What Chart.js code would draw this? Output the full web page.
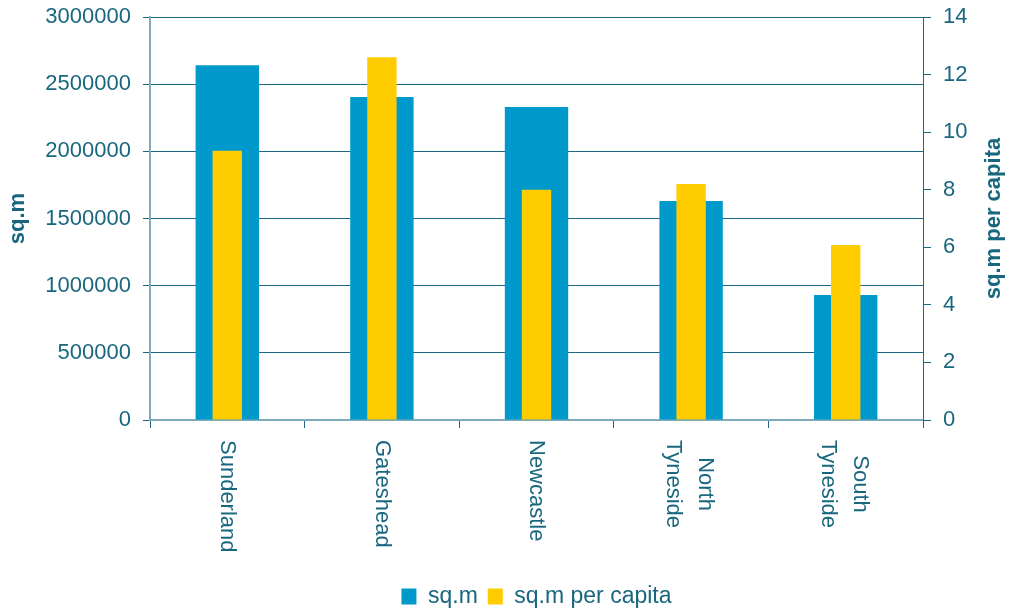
<!DOCTYPE html>
<html>
<head>
<meta charset="utf-8">
<script src="https://cdn.jsdelivr.net/npm/chart.js@4.4.0/dist/chart.umd.min.js"></script>
<style>
  html, body { margin: 0; padding: 0; background: #ffffff; }
  #contenedor { width: 1012px; height: 612px; }
</style>
</head>
<body>
<div id="contenedor"><canvas id="grafico" width="1012" height="612"></canvas></div>
<script>
// Datos del gráfico
const municipios = [["Sunderland"], ["Gateshead"], ["Newcastle"], ["North", "Tyneside"], ["South", "Tyneside"]];
const superficie = [2640000, 2405000, 2330000, 1630000, 930000]; // sq.m
const porHabitante = [9.35, 12.6, 8.0, 8.2, 6.08]; // sq.m per capita

// Escalas de los ejes
const ejeIzqMax = 3000000;
const ejeIzqPaso = 500000;
const ejeDerMax = 14;
const ejeDerPaso = 2;

const colorTexto = "#19677f";
const colorLinea = "#1b6880";
const colorBorde = "#7eaaba";
const fuente = "'Liberation Sans', Arial, Helvetica, sans-serif";

const altoLeyenda = 43; // fuente 23 + padding 10 + 10 internos de Chart.js
const margenInferior = -6;

const ctx = document.getElementById("grafico");

// Dibuja las etiquetas del eje X giradas (de arriba hacia abajo) y el título del eje derecho
const textosExtra = {
  id: "textosExtra",
  afterDraw(chart) {
    const c = chart.ctx;
    const x = chart.scales.x;
    const y2 = chart.scales.y2;

    c.save();
    c.font = "22px " + fuente;
    c.fillStyle = colorTexto;
    c.textBaseline = "middle";
    c.textAlign = "left";
    municipios.forEach((lineas, i) => {
      const cx = x.getPixelForValue(i) - (lineas.length > 1 ? 2 : 0);
      const anchoMax = Math.max(...lineas.map((l) => c.measureText(l).width));
      c.save();
      c.translate(cx, x.top + 20);
      c.rotate(Math.PI / 2);
      lineas.forEach((linea, j) => {
        const desp = (j - (lineas.length - 1) / 2) * 32;
        const ancho = c.measureText(linea).width;
        c.fillText(linea, (anchoMax - ancho) / 2, desp);
      });
      c.restore();
    });

    // Título del eje derecho, leído de abajo hacia arriba
    c.font = "bold 22px " + fuente;
    c.textAlign = "center";
    c.translate(y2.right - 18, (y2.top + y2.bottom) / 2);
    c.rotate(-Math.PI / 2);
    c.fillText("sq.m per capita", 0, 0);
    c.restore();
  },
};

// Los ejes verticales no reservan espacio extra arriba/abajo para sus etiquetas
const sinRelleno = (escala, ancho) => {
  escala.width = ancho;
  escala.paddingTop = 0;
  escala.paddingBottom = 0;
};

const chart = new Chart(ctx, {
  type: "bar",
  data: {
    labels: municipios,
    datasets: [
      {
        label: "sq.m",
        data: superficie,
        backgroundColor: "#0099cc",
        yAxisID: "y",
        grouped: false,
        categoryPercentage: 1,
        barPercentage: 0.41,
        order: 1,
      },
      {
        label: "sq.m per capita",
        data: porHabitante,
        backgroundColor: "#ffcc00",
        yAxisID: "y2",
        grouped: false,
        categoryPercentage: 1,
        barPercentage: 0.19,
        order: 0, // encima de las barras azules
      },
    ],
  },
  options: {
    responsive: false,
    animation: false,
    layout: { padding: { top: 17, left: 0, right: 0, bottom: margenInferior } },
    plugins: {
      tooltip: { enabled: false },
      legend: {
        position: "bottom",
        fullSize: false, // centrada bajo el área del gráfico
        labels: {
          color: colorTexto,
          font: { family: fuente, size: 23 },
          boxWidth: 15,
          boxHeight: 16,
          padding: 10,
          sort: (a, b) => a.datasetIndex - b.datasetIndex,
        },
      },
    },
    scales: {
      x: {
        grid: {
          offset: true,
          drawOnChartArea: false,
          drawTicks: true,
          tickLength: 8,
          color: colorLinea,
        },
        border: { color: colorBorde, width: 2 },
        ticks: { callback: () => "" },
        afterFit: (escala) => {
          escala.height = 612 - 420 - altoLeyenda - margenInferior;
        },
      },
      y: {
        position: "left",
        min: 0,
        max: ejeIzqMax,
        ticks: {
          stepSize: ejeIzqPaso,
          color: colorTexto,
          font: { family: fuente, size: 22 },
          padding: 12,
          callback: (valor) => String(valor),
        },
        grid: { color: colorLinea, tickLength: 7 },
        border: { color: colorBorde, width: 2 },
        title: {
          display: true,
          text: "sq.m",
          color: colorTexto,
          font: { family: fuente, size: 22, weight: "bold" },
          padding: { top: 5, bottom: 0 },
        },
        afterFit: (escala) => sinRelleno(escala, 150),
      },
      y2: {
        position: "right",
        min: 0,
        max: ejeDerMax,
        ticks: {
          stepSize: ejeDerPaso,
          color: colorTexto,
          font: { family: fuente, size: 22 },
          padding: 12,
        },
        grid: { drawOnChartArea: false, color: colorLinea, tickLength: 8 },
        border: { color: colorLinea, width: 1 },
        afterFit: (escala) => sinRelleno(escala, 89),
      },
    },
  },
  plugins: [textosExtra],
});
</script>
</body>
</html>
